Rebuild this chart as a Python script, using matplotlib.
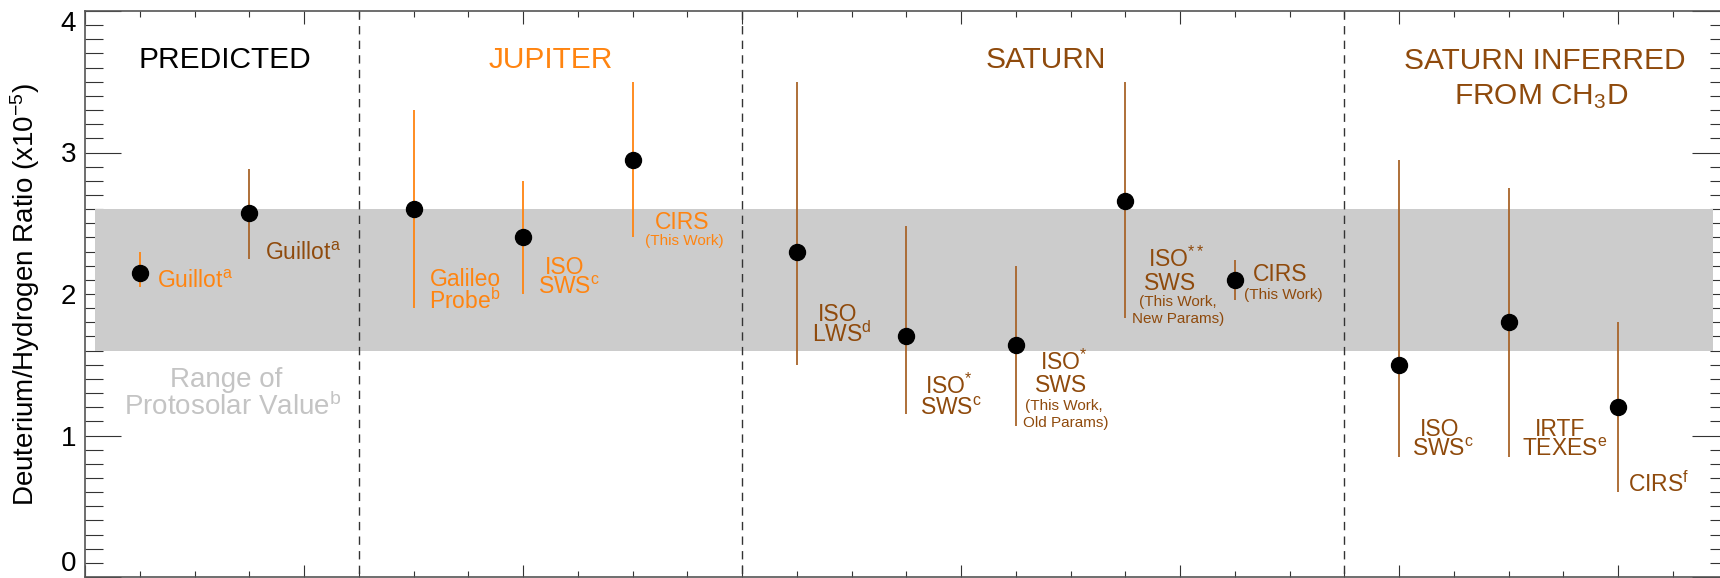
import matplotlib
matplotlib.use("Agg")
import matplotlib.pyplot as plt
from matplotlib.ticker import MultipleLocator

plt.rcParams['font.family'] = ['Liberation Sans', 'DejaVu Sans']
plt.rcParams['mathtext.fontset'] = 'custom'
plt.rcParams['mathtext.rm'] = 'Liberation Sans'
plt.rcParams['mathtext.it'] = 'Liberation Sans:italic'
plt.rcParams['mathtext.bf'] = 'Liberation Sans:bold'

# D/H measurements (x1e-5): slot position, value, lower and upper error limits
slot = [0.5, 1.5, 3, 4, 5, 6.5, 7.5, 8.5, 9.5, 10.5, 12, 13, 14]
dh_value = [2.15, 2.57, 2.60, 2.40, 2.95, 2.30, 1.70, 1.64, 2.66, 2.10, 1.50, 1.80, 1.20]
dh_low = [2.05, 2.25, 1.90, 2.00, 2.40, 1.50, 1.15, 1.07, 1.83, 1.96, 0.85, 0.85, 0.60]
dh_high = [2.30, 2.88, 3.30, 2.80, 3.50, 3.50, 2.48, 2.20, 3.50, 2.24, 2.95, 2.75, 1.80]
planet = ['Jupiter', 'Saturn', 'Jupiter', 'Jupiter', 'Jupiter', 'Saturn', 'Saturn',
          'Saturn', 'Saturn', 'Saturn', 'Saturn', 'Saturn', 'Saturn']

protosolar = [1.6, 2.6]
dividers = [2.5, 6.0, 11.5]
y_ticks = [0, 1, 2, 3, 4]
section_titles = ['PREDICTED', 'JUPITER', 'SATURN', 'SATURN INFERRED', r'FROM CH$_3$D']
section_planet = ['Predicted', 'Jupiter', 'Saturn', 'Saturn', 'Saturn']

ORANGE = '#ff8410'
BROWN = '#8f4a0c'
BAR_BROWN = '#a8642a'
colors = {'Jupiter': ORANGE, 'Saturn': BROWN, 'Predicted': 'black'}
bar_colors = {'Jupiter': ORANGE, 'Saturn': BAR_BROWN}

fig = plt.figure(figsize=(17.2, 5.78), dpi=100)
ax = fig.add_axes([85 / 1720, 1 / 578, 1642.5 / 1720, 566 / 578])
ax.set_xlim(0, 15)
ax.set_ylim(0, 4)
ax.set_axisbelow(True)

# protosolar band sits over the tick marks
ax.axhspan(protosolar[0], protosolar[1], xmin=0.006, xmax=0.9913,
           color='#cccccc', lw=0, zorder=1)

for xd in dividers:
    ax.plot([xd, xd], [4, 0], color='#333333', lw=1.0, dashes=(6, 4.5), zorder=2)

ax.vlines(slot, dh_low, dh_high, colors=[bar_colors[p] for p in planet], lw=1.3, zorder=3)
ax.plot(slot, dh_value, 'o', color='black', ms=11.5, zorder=4)

# section headings
title_spots = [(1.28, 3.598), (4.254, 3.598), (8.776, 3.598), (13.336, 3.59), (13.30, 3.34)]
for (tx, ty), txt, p in zip(title_spots, section_titles, section_planet):
    ax.text(tx, ty, txt, color=colors[p], fontsize=21.5, ha='center', va='baseline')

BIG = 16.5
SMALL = 11
# measurement labels: x, baseline y, text, size, planet, alignment
labels = [
    (0.654, 2.045, r'Guillot$^{\mathrm{a}}$', BIG, 'Jupiter', 'left'),
    (1.644, 2.240, r'Guillot$^{\mathrm{a}}$', BIG, 'Saturn', 'left'),
    (3.470, 2.060, 'Galileo', BIG, 'Jupiter', 'center'),
    (3.470, 1.896, r'Probe$^{\mathrm{b}}$', BIG, 'Jupiter', 'center'),
    (4.384, 2.143, 'ISO', BIG, 'Jupiter', 'center'),
    (4.418, 2.000, r'SWS$^{\mathrm{c}}$', BIG, 'Jupiter', 'center'),
    (5.449, 2.457, 'CIRS', BIG, 'Jupiter', 'center'),
    (5.475, 2.345, '(This Work)', SMALL, 'Jupiter', 'center'),
    (6.873, 1.810, 'ISO', BIG, 'Saturn', 'center'),
    (6.908, 1.661, r'LWS$^{\mathrm{d}}$', BIG, 'Saturn', 'center'),
    (7.891, 1.297, r'ISO$^{\mathrm{*}}$', BIG, 'Saturn', 'center'),
    (7.912, 1.146, r'SWS$^{\mathrm{c}}$', BIG, 'Saturn', 'center'),
    (8.940, 1.461, r'ISO$^{\mathrm{*}}$', BIG, 'Saturn', 'center'),
    (8.916, 1.305, 'SWS', BIG, 'Saturn', 'center'),
    (8.935, 1.180, '(This Work,', SMALL, 'Saturn', 'center'),
    (8.953, 1.063, 'Old Params)', SMALL, 'Saturn', 'center'),
    (9.966, 2.191, r'ISO$^{\mathrm{**}}$', BIG, 'Saturn', 'center'),
    (9.913, 2.026, 'SWS', BIG, 'Saturn', 'center'),
    (9.976, 1.915, '(This Work,', SMALL, 'Saturn', 'center'),
    (9.983, 1.798, 'New Params)', SMALL, 'Saturn', 'center'),
    (10.913, 2.091, 'CIRS', BIG, 'Saturn', 'center'),
    (10.941, 1.962, '(This Work)', SMALL, 'Saturn', 'center'),
    (12.372, 0.997, 'ISO', BIG, 'Saturn', 'center'),
    (12.400, 0.854, r'SWS$^{\mathrm{c}}$', BIG, 'Saturn', 'center'),
    (13.470, 0.997, 'IRTF', BIG, 'Saturn', 'center'),
    (13.516, 0.854, r'TEXES$^{\mathrm{e}}$', BIG, 'Saturn', 'center'),
    (14.094, 0.601, r'CIRS$^{\mathrm{f}}$', BIG, 'Saturn', 'left'),
]
for lx, ly, txt, size, p, ha in labels:
    ax.text(lx, ly, txt, color=colors[p], fontsize=size, ha=ha, va='baseline')

ax.text(1.288, 1.341, 'Range of', color='#c4c4c4', fontsize=20, ha='center', va='baseline')
ax.text(1.347, 1.146, r'Protosolar Value$^{\mathrm{b}}$', color='#c4c4c4', fontsize=20,
        ha='center', va='baseline')

# IDL-style frame: inward ticks on all four sides, no x labels
ax.xaxis.set_major_locator(MultipleLocator(2))
ax.xaxis.set_minor_locator(MultipleLocator(0.5))
ax.yaxis.set_major_locator(MultipleLocator(1))
ax.yaxis.set_minor_locator(MultipleLocator(0.1))
ax.tick_params(which='both', direction='in', top=True, right=True, color='#333333', width=0.8,
               labelbottom=False, labelleft=False)
ax.tick_params(axis='x', which='major', length=9)
ax.tick_params(axis='x', which='minor', length=4.5)
ax.tick_params(axis='y', which='major', length=26)
ax.tick_params(axis='y', which='minor', length=13)
for s in ax.spines.values():
    s.set_color('#555555')
    s.set_linewidth(1.2)

# y tick labels, the end ones kept inside the frame
ylab_tr = ax.get_yaxis_transform()
half_cap = 10 / 141.5
for v in y_ticks:
    if v == y_ticks[0]:
        ax.text(-0.0055, v, str(v), transform=ylab_tr, fontsize=20, ha='right', va='bottom')
    elif v == y_ticks[-1]:
        ax.text(-0.0055, v, str(v), transform=ylab_tr, fontsize=20, ha='right', va='top')
    else:
        ax.text(-0.0055, v - half_cap, str(v), transform=ylab_tr, fontsize=20,
                ha='right', va='baseline')

fig.text(25 / 1720, (578 - 294) / 578, r'Deuterium/Hydrogen Ratio (x10$^{\mathrm{-5}}$)',
         rotation=90, fontsize=20, ha='center', va='center')

fig.savefig('out.png', dpi=100)
